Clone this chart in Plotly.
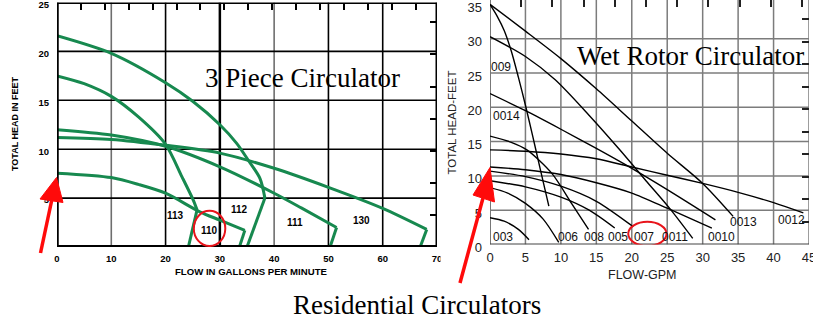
import plotly.graph_objects as go

W, H = 813, 323

# ---------------- 3 piece circulators: flow (GPM) vs head (ft) ----------------
flow_112 = [0, 10, 20, 25, 30, 33.1, 35.2, 37.4, 38.3]
head_112 = [21.6, 19.8, 16.8, 14.9, 12.5, 10.6, 8.9, 7.0, 5.0]
end_flow_112 = 35.0

flow_113 = [0, 5, 10, 15, 20, 23, 25.1, 25.8]
head_113 = [17.5, 16.7, 15.4, 13.3, 10.5, 7.2, 4.8, 3.8]
end_flow_113 = 24.2

flow_111 = [0, 10, 20, 30, 40, 45, 51.5]
head_111 = [12.0, 11.45, 10.3, 8.2, 5.5, 4.0, 2.0]
end_flow_111 = 50.3

flow_130 = [0, 10, 20, 30, 40, 50, 60, 68.1]
head_130 = [11.2, 11.0, 10.4, 9.6, 8.05, 6.1, 3.95, 1.8]
end_flow_130 = 66.9

flow_110 = [0, 10, 15, 20, 26.3, 30, 34.6]
head_110 = [7.55, 7.1, 6.4, 5.5, 3.6, 2.75, 1.7]
end_flow_110 = 33.6

three_piece_names = ["112", "113", "111", "130", "110"]
three_piece_label_x = [33.6, 21.9, 43.8, 56.0, 28.0]
three_piece_label_y = [3.85, 3.2, 2.5, 2.7, 1.67]

left_x_ticks = [0, 10, 20, 30, 40, 50, 60, 70]
left_y_ticks = [5, 10, 15, 20, 25]

# ---------------- wet rotor circulators: flow (GPM) vs head (ft) ----------------
flow_009 = [0, 1, 2, 3, 4, 5, 6, 7, 8.3]
head_009 = [35, 33.3, 31.2, 28.2, 24.4, 20.3, 15.9, 11.4, 5.6]

flow_0013 = [0, 5, 10, 15, 20, 25, 30, 34.3]
head_0013 = [35, 31.1, 27.1, 22.7, 18.0, 13.3, 8.9, 4.1]

flow_0011 = [0, 5, 9.2, 14, 18.3, 22, 25.4, 28.6]
head_0011 = [30.3, 27.4, 24.0, 18.8, 13.8, 9.3, 5.2, 0.9]

flow_0014 = [0, 5, 10, 15, 20, 25, 31.8]
head_0014 = [22.0, 19.5, 16.8, 14.0, 11.1, 8.0, 3.6]

flow_0012 = [0, 5, 10, 15, 20, 25, 30, 35, 40, 44.2]
head_0012 = [13.8, 13.6, 13.2, 12.5, 11.3, 10.1, 8.9, 7.6, 6.1, 4.6]

flow_0010 = [0, 5, 10, 15, 20, 25, 31.3]
head_0010 = [11.3, 10.9, 10.2, 9.0, 7.5, 5.3, 2.4]

flow_008 = [0, 3, 5.2, 8.7, 11.5, 13.9]
head_008 = [15.8, 14.9, 13.8, 10.4, 6.0, 2.2]

flow_007 = [0, 5, 10, 15, 20.2]
head_007 = [10.7, 9.9, 8.5, 6.3, 2.6]

flow_005 = [0, 5, 10, 14, 17.6]
head_005 = [9.3, 8.4, 6.9, 5.0, 2.4]

flow_006 = [0, 2.5, 5, 7.5, 9.7]
head_006 = [8.3, 7.5, 6.0, 3.7, 0.3]

flow_003 = [0, 2, 4, 5.5]
head_003 = [3.9, 3.4, 2.2, 0.7]

wet_rotor_names = ["009", "0014", "003", "006", "008", "005", "007",
                   "0011", "0010", "0013", "0012"]
wet_rotor_label_x = [1.6, 2.35, 1.9, 11.0, 14.6, 18.0, 21.7, 26.1, 32.7, 35.7, 42.5]
wet_rotor_label_y = [25.9, 18.7, 1.05, 1.1, 1.1, 1.1, 1.1, 1.1, 1.1, 3.3, 3.5]

right_x_ticks = [0, 5, 10, 15, 20, 25, 30, 35, 40, 45]
right_y_ticks = [0, 5, 10, 15, 20, 25, 30, 35]

GPM_PER_M3H = 4.4029
FT_PER_M = 3.2808

GREEN = "#17894f"
BOLD = "Liberation Sans, Arial, sans-serif"
SANS = "Liberation Sans, Arial, sans-serif"
SERIF = "Liberation Serif, Times New Roman, serif"


def px(x):
    return x / W


def py(y):
    return 1 - y / H


fig = go.Figure()

# ---- 3 piece curves: smooth curve, then a straight drop to zero head ----
three_piece = [
    (flow_112, head_112, end_flow_112),
    (flow_113, head_113, end_flow_113),
    (flow_111, head_111, end_flow_111),
    (flow_130, head_130, end_flow_130),
    (flow_110, head_110, end_flow_110),
]
for fx, fy, fend in three_piece:
    fig.add_trace(go.Scatter(x=fx, y=fy, mode="lines", xaxis="x", yaxis="y",
                             line=dict(color=GREEN, width=3, shape="spline", smoothing=0.8),
                             showlegend=False, hoverinfo="skip"))
    fig.add_trace(go.Scatter(x=[fx[-1], fend], y=[fy[-1], 0], mode="lines",
                             xaxis="x", yaxis="y",
                             line=dict(color=GREEN, width=3),
                             showlegend=False, hoverinfo="skip"))

# ---- wet rotor curves ----
wet_rotor = [
    (flow_009, head_009), (flow_0013, head_0013), (flow_0011, head_0011),
    (flow_0014, head_0014), (flow_0012, head_0012), (flow_0010, head_0010),
    (flow_008, head_008), (flow_007, head_007), (flow_005, head_005),
    (flow_006, head_006), (flow_003, head_003),
]
for fx, fy in wet_rotor:
    fig.add_trace(go.Scatter(x=fx, y=fy, mode="lines", xaxis="x2", yaxis="y2",
                             line=dict(color="black", width=1.4, shape="spline", smoothing=0.8),
                             showlegend=False, hoverinfo="skip"))

# empty traces so the metric tick axes are drawn
for xa, ya in [("x3", "y"), ("x", "y3"), ("x4", "y2"), ("x2", "y4")]:
    fig.add_trace(go.Scatter(x=[], y=[], xaxis=xa, yaxis=ya, showlegend=False,
                             hoverinfo="skip"))

shapes = []

# ---- left chart grid and frame ----
for gx in [10, 20, 30, 40, 50, 60]:
    grey = gx in (10, 40)
    shapes.append(dict(type="line", xref="x", yref="y", x0=gx, x1=gx, y0=0, y1=25,
                       line=dict(color="#6e6e6e" if grey else "black",
                                 width=2.5 if gx == 30 else 1.6), layer="below"))
for gy in [5, 10, 15, 20]:
    shapes.append(dict(type="line", xref="x", yref="y", x0=0, x1=70, y0=gy, y1=gy,
                       line=dict(color="black", width=1.6), layer="below"))
shapes += [
    dict(type="line", xref="x", yref="y", x0=0, x1=0, y0=0, y1=25,
         line=dict(color="black", width=3.5), layer="above"),
    dict(type="line", xref="x", yref="y", x0=0, x1=70, y0=0, y1=0,
         line=dict(color="black", width=4), layer="above"),
    dict(type="line", xref="x", yref="y", x0=0, x1=70, y0=25, y1=25,
         line=dict(color="black", width=3), layer="above"),
    dict(type="line", xref="x", yref="y", x0=70, x1=70, y0=0, y1=25,
         line=dict(color="black", width=3), layer="above"),
]

# ---- right chart grid ----
for gx in [5, 10, 15, 20, 25, 30, 35, 40, 45]:
    shapes.append(dict(type="line", xref="x2", yref="y2", x0=gx, x1=gx, y0=0, y1=35.64,
                       line=dict(color="#7c7c7c", width=1.5), layer="below"))
for gy in [5, 10, 15, 20, 25, 30]:
    shapes.append(dict(type="line", xref="x2", yref="y2", x0=0, x1=45, y0=gy, y1=gy,
                       line=dict(color="#7c7c7c", width=1.5), layer="below"))
shapes += [
    dict(type="line", xref="x2", yref="y2", x0=0, x1=0, y0=0, y1=35.64,
         line=dict(color="#777777", width=2), layer="below"),
    dict(type="line", xref="x2", yref="y2", x0=0, x1=45, y0=0, y1=0,
         line=dict(color="#444444", width=2), layer="below"),
]

# ---- red highlight ellipses ----
shapes += [
    dict(type="circle", xref="x", yref="y", x0=25.2, x1=31.0, y0=0.1, y1=3.7,
         line=dict(color="#e8141b", width=2), layer="above"),
    dict(type="circle", xref="x2", yref="y2", x0=19.5, x1=24.9, y0=-0.2, y1=3.3,
         line=dict(color="#e8141b", width=2), layer="above"),
]


# ---- red arrows ----
def arrow(tail, neck, tip, left, right):
    out = [dict(type="line", xref="paper", yref="paper",
                x0=px(tail[0]), y0=py(tail[1]), x1=px(neck[0]), y1=py(neck[1]),
                line=dict(color="#ff0a0a", width=3.5), layer="above")]
    path = "M {},{} L {},{} L {},{} Z".format(px(tip[0]), py(tip[1]),
                                              px(left[0]), py(left[1]),
                                              px(right[0]), py(right[1]))
    out.append(dict(type="path", xref="paper", yref="paper", path=path,
                    fillcolor="#ff0a0a", line=dict(color="#ff0a0a", width=1),
                    layer="above"))
    return out


shapes += arrow((40.5, 253), (52, 199), (56.5, 177.5), (40, 199), (63, 202.5))
shapes += arrow((460, 283), (483, 198), (490, 167.5), (473, 195), (494.5, 202))

# hides the tail of the "70" label where the second chart begins
shapes.append(dict(type="rect", xref="paper", yref="paper",
                   x0=px(440.5), x1=px(447), y0=py(266), y1=py(250),
                   fillcolor="white", line=dict(width=0), layer="above"))

annotations = []
for name, lx, ly in zip(three_piece_names, three_piece_label_x, three_piece_label_y):
    annotations.append(dict(x=lx, y=ly, xref="x", yref="y", text=name, showarrow=False,
                            xanchor="center", yanchor="middle",
                            font=dict(family=BOLD, size=10, color="black", weight="bold")))
for name, lx, ly in zip(wet_rotor_names, wet_rotor_label_x, wet_rotor_label_y):
    annotations.append(dict(x=lx, y=ly, xref="x2", yref="y2", text=name, showarrow=False,
                            xanchor="center", yanchor="middle",
                            font=dict(family=SANS, size=12, color="#111111")))


def note(x, y, text, font, angle=0, xanchor="center"):
    return dict(x=px(x), y=py(y), xref="paper", yref="paper", text=text,
                showarrow=False, xanchor=xanchor, yanchor="middle",
                textangle=angle, font=font)


annotations += [
    note(203, 78, "3 Piece Circulator",
         dict(family=SERIF, size=27, color="black"), xanchor="left"),
    note(575, 56, "Wet Rotor Circulator",
         dict(family=SERIF, size=27, color="black"), xanchor="left"),
    note(417, 305, "Residential Circulators",
         dict(family=SERIF, size=27, color="black")),
    note(15, 124, "TOTAL HEAD IN FEET",
         dict(family=BOLD, size=9, color="black", weight="bold"), angle=-90),
    note(251, 271, "FLOW IN GALLONS PER MINUTE",
         dict(family=BOLD, size=9.6, color="black", weight="bold")),
    note(452, 122.5, "TOTAL HEAD-FEET",
         dict(family=SANS, size=11.5, color="#222222"), angle=-90),
    note(642, 275, "FLOW-GPM",
         dict(family=SANS, size=12.5, color="#222222")),
]

left_dom_x = [px(57), px(437)]
left_dom_y = [py(247), py(2.5)]
right_dom_x = [px(490), px(809)]
right_dom_y = [py(244.5), 1.0]

common = dict(showgrid=False, zeroline=False, showline=False, automargin=False)
tick_font_left = dict(family=BOLD, size=9.5, color="black", weight="bold")
tick_font_right = dict(family=SANS, size=13, color="#222222")
fig.update_layout(
    width=W, height=H, autosize=False,
    margin=dict(l=0, r=0, t=0, b=0, pad=0),
    paper_bgcolor="white", plot_bgcolor="white",
    showlegend=False,
    xaxis=dict(domain=left_dom_x, range=[0, 70], anchor="y", tickmode="array",
               tickvals=left_x_ticks, ticktext=[str(v) for v in left_x_ticks],
               ticks="", ticklabelstandoff=4, ticklabeloverflow="allow",
               tickfont=tick_font_left, **common),
    yaxis=dict(domain=left_dom_y, range=[0, 25], anchor="x", tickmode="array",
               tickvals=left_y_ticks, ticktext=[str(v) for v in left_y_ticks],
               ticks="", ticklabelstandoff=7, ticklabelshift=2,
               ticklabeloverflow="allow", tickfont=tick_font_left, **common),
    xaxis3=dict(overlaying="x", anchor="y", side="top", range=[0, 70 / GPM_PER_M3H],
                tickmode="linear", tick0=0, dtick=1, ticks="inside", ticklen=7,
                tickwidth=2, tickcolor="black", showticklabels=False, **common),
    yaxis3=dict(overlaying="y", anchor="x", side="right", range=[0, 25 / FT_PER_M],
                tickmode="linear", tick0=0, dtick=1, ticks="inside", ticklen=7,
                tickwidth=2, tickcolor="black", showticklabels=False, **common),
    xaxis2=dict(domain=right_dom_x, range=[0, 45], anchor="y2", tickmode="array",
                tickvals=right_x_ticks, ticktext=[str(v) for v in right_x_ticks],
                ticks="", ticklabelstandoff=3, ticklabeloverflow="allow",
                tickfont=tick_font_right, **common),
    yaxis2=dict(domain=right_dom_y, range=[0, 35.64], anchor="x2", tickmode="array",
                tickvals=right_y_ticks, ticktext=[str(v) for v in right_y_ticks],
                ticks="", ticklabelstandoff=7, ticklabelshift=3,
                ticklabeloverflow="allow", tickfont=tick_font_right, **common),
    xaxis4=dict(overlaying="x2", anchor="y2", side="top", range=[0, 45 / GPM_PER_M3H],
                tickmode="linear", tick0=0, dtick=1, ticks="inside", ticklen=7,
                tickwidth=1.5, tickcolor="#222222", showticklabels=False, **common),
    yaxis4=dict(overlaying="y2", anchor="x2", side="right", range=[0, 35.64 / FT_PER_M],
                tickmode="linear", tick0=0, dtick=1, ticks="inside", ticklen=7,
                tickwidth=1.5, tickcolor="#222222", showticklabels=False, **common),
    shapes=shapes,
    annotations=annotations,
)

fig.write_html("out.html")
